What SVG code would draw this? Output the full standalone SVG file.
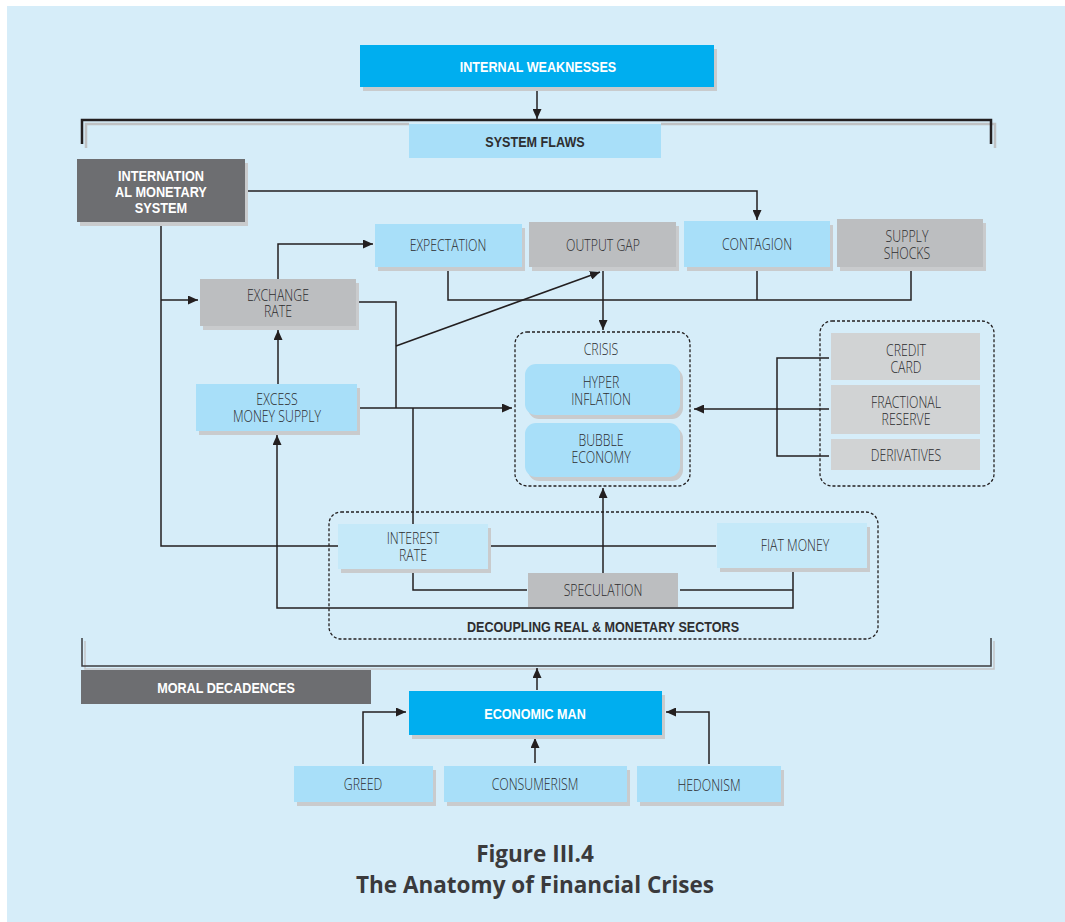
<svg xmlns="http://www.w3.org/2000/svg" width="1065" height="922" viewBox="0 0 1065 922">
<style>
.t{font-family:"Open Sans","Liberation Sans",Arial,sans-serif;font-weight:300;font-size:16px;fill:#2c2c2e;text-anchor:middle}
.b{font-family:"Liberation Sans",Arial,sans-serif;font-size:15px;font-weight:bold;text-anchor:middle}
.w{fill:#ffffff}
.k{fill:#2e2e30}
.cap{font-family:"Open Sans","Noto Sans",sans-serif;font-size:22.5px;font-weight:bold;fill:#3a3a3c;text-anchor:middle}
.sh{fill:#c9cbcd}
.cy{fill:#00aeef}
.lb{fill:#a8dff9}
.xb{fill:#c5e9f9}
.gr{fill:#bcbec0}
.lg{fill:#d1d3d4}
.dg{fill:#6d6e71}
.ln{fill:none;stroke:#231f20;stroke-width:1.5}
.ar{marker-end:url(#ah)}
.dash{fill:none;stroke:#231f20;stroke-width:1.3;stroke-dasharray:3 2}
</style>
<defs>
<marker id="ah" markerUnits="userSpaceOnUse" markerWidth="11" markerHeight="9" refX="10" refY="4.5" orient="auto">
<path d="M0,0 L10,4.5 L0,9 z" fill="#231f20"/>
</marker>
</defs>
<rect x="7" y="6" width="1058" height="916" fill="#d6edf9"/>

<g id="brackets">
<path d="M86,148 V124 H409 M661,124 H995 V148" fill="none" stroke="#bfc1c3" stroke-width="2.5"/>
<path d="M82,144 V120 H991 V144" fill="none" stroke="#231f20" stroke-width="2.5"/>
<path d="M85,641 V669 H994 V641" fill="none" stroke="#c3c5c7" stroke-width="1.5"/>
<path d="M82,638 V666 H991 V638" fill="none" stroke="#3d3d3f" stroke-width="1.5"/>
</g>

<g id="groups">
<rect x="515" y="332" width="175" height="154" rx="12" class="dash"/>
<rect x="820" y="321" width="174" height="165" rx="12" class="dash"/>
<rect x="329" y="512" width="549" height="127" rx="12" class="dash"/>
<text transform="matrix(0.77 0 0 1 601 355)" class="t">CRISIS</text>
<text transform="matrix(0.84 0 0 1 603 632)" class="b k">DECOUPLING REAL &amp; MONETARY SECTORS</text>
</g>

<g id="connectors">
<path class="ln ar" d="M537,88 V119"/>
<path class="ln ar" d="M245,191 H757 V220"/>
<path class="ln" d="M161,222 V546 H338"/>
<path class="ln ar" d="M161,300 H198"/>
<path class="ln ar" d="M278,279 V244 H373"/>
<path class="ln" d="M357,302 H396 V408"/>
<path class="ln ar" d="M396,346 L600,272"/>
<path class="ln ar" d="M278,384 V330"/>
<path class="ln ar" d="M357,408 H512"/>
<path class="ln" d="M413,408 V524"/>
<path class="ln" d="M448,270 V300 H911 V270 M757,270 V300"/>
<path class="ln ar" d="M603,270 V330"/>
<path class="ln" d="M829,358 H777 V456 H829"/>
<path class="ln ar" d="M829,409 H694"/>
<path class="ln" d="M413,570 V590 H527"/>
<path class="ln" d="M490,546 H716"/>
<path class="ln ar" d="M603,573 V488"/>
<path class="ln ar" d="M793,571 V608 H277 V435"/>
<path class="ln" d="M680,590 H793"/>
<path class="ln ar" d="M537,690 V668"/>
<path class="ln ar" d="M363,764 V712 H406"/>
<path class="ln ar" d="M535,763 V738"/>
<path class="ln ar" d="M709,764 V712 H666"/>
</g>

<g id="internal-weaknesses">
<rect x="363" y="49" width="354" height="42" class="sh"/>
<rect x="360" y="45" width="354" height="42" class="cy"/>
<text transform="matrix(0.84 0 0 1 538 72)" class="b w">INTERNAL WEAKNESSES</text>
</g>

<g id="system-flaws">
<rect x="409" y="124" width="252" height="34" class="lb"/>
<text transform="matrix(0.84 0 0 1 535 147)" class="b k">SYSTEM FLAWS</text>
</g>

<g id="ims">
<rect x="80" y="163" width="168" height="63" class="sh"/>
<rect x="77" y="159" width="168" height="63" class="dg"/>
<text transform="matrix(0.85 0 0 1 161 181)" class="b w">INTERNATION</text>
<text transform="matrix(0.85 0 0 1 161 197)" class="b w">AL MONETARY</text>
<text transform="matrix(0.85 0 0 1 161 213)" class="b w">SYSTEM</text>
</g>

<g id="expectation">
<rect x="378" y="228" width="147" height="43" class="sh"/>
<rect x="375" y="224" width="147" height="43" class="lb"/>
<text transform="matrix(0.77 0 0 1 448 251)" class="t">EXPECTATION</text>
</g>

<g id="output-gap">
<rect x="532" y="226" width="147" height="45" class="sh"/>
<rect x="529" y="222" width="147" height="45" class="gr"/>
<text transform="matrix(0.77 0 0 1 603 251)" class="t">OUTPUT GAP</text>
</g>

<g id="contagion">
<rect x="687" y="225" width="146" height="46" class="sh"/>
<rect x="684" y="221" width="146" height="46" class="lb"/>
<text transform="matrix(0.77 0 0 1 757 250)" class="t">CONTAGION</text>
</g>

<g id="supply-shocks">
<rect x="840" y="223" width="146" height="48" class="sh"/>
<rect x="837" y="219" width="146" height="48" class="gr"/>
<text transform="matrix(0.77 0 0 1 907 242)" class="t">SUPPLY</text>
<text transform="matrix(0.77 0 0 1 907 259)" class="t">SHOCKS</text>
</g>

<g id="exchange-rate">
<rect x="203" y="283" width="156" height="47" class="sh"/>
<rect x="200" y="279" width="156" height="47" class="gr"/>
<text transform="matrix(0.77 0 0 1 278 301)" class="t">EXCHANGE</text>
<text transform="matrix(0.77 0 0 1 278 317)" class="t">RATE</text>
</g>

<g id="excess-money-supply">
<rect x="199" y="388" width="161" height="47" class="sh"/>
<rect x="196" y="384" width="161" height="47" class="lb"/>
<text transform="matrix(0.77 0 0 1 277 405)" class="t">EXCESS</text>
<text transform="matrix(0.77 0 0 1 277 422)" class="t">MONEY SUPPLY</text>
</g>

<g id="hyper-inflation">
<rect x="528" y="368" width="155" height="51" rx="11" class="sh"/>
<rect x="525" y="364" width="155" height="51" rx="11" class="lb"/>
<text transform="matrix(0.77 0 0 1 601 388)" class="t">HYPER</text>
<text transform="matrix(0.77 0 0 1 601 405)" class="t">INFLATION</text>
</g>

<g id="bubble-economy">
<rect x="528" y="427" width="155" height="54" rx="11" class="sh"/>
<rect x="525" y="423" width="155" height="54" rx="11" class="lb"/>
<text transform="matrix(0.77 0 0 1 601 446)" class="t">BUBBLE</text>
<text transform="matrix(0.77 0 0 1 601 463)" class="t">ECONOMY</text>
</g>

<g id="credit-card">
<rect x="831" y="333" width="149" height="47" class="lg"/>
<text transform="matrix(0.77 0 0 1 906 356)" class="t">CREDIT</text>
<text transform="matrix(0.77 0 0 1 906 373)" class="t">CARD</text>
</g>

<g id="fractional-reserve">
<rect x="831" y="385" width="149" height="49" class="lg"/>
<text transform="matrix(0.77 0 0 1 906 408)" class="t">FRACTIONAL</text>
<text transform="matrix(0.77 0 0 1 906 425)" class="t">RESERVE</text>
</g>

<g id="derivatives">
<rect x="831" y="439" width="149" height="31" class="lg"/>
<text transform="matrix(0.77 0 0 1 906 461)" class="t">DERIVATIVES</text>
</g>

<g id="interest-rate">
<rect x="341" y="528" width="150" height="45" class="sh"/>
<rect x="338" y="524" width="150" height="45" class="xb"/>
<text transform="matrix(0.77 0 0 1 413 544)" class="t">INTEREST</text>
<text transform="matrix(0.77 0 0 1 413 561)" class="t">RATE</text>
</g>

<g id="fiat-money">
<rect x="720" y="527" width="150" height="45" class="sh"/>
<rect x="717" y="523" width="150" height="45" class="xb"/>
<text transform="matrix(0.77 0 0 1 795 551)" class="t">FIAT MONEY</text>
</g>

<g id="speculation">
<rect x="528" y="573" width="150" height="34" class="gr"/>
<text transform="matrix(0.77 0 0 1 603 596)" class="t">SPECULATION</text>
</g>

<g id="moral-decadences">
<rect x="81" y="670" width="290" height="34" class="dg"/>
<text transform="matrix(0.84 0 0 1 226 693)" class="b w">MORAL DECADENCES</text>
</g>

<g id="economic-man">
<rect x="412" y="695" width="253" height="44" class="sh"/>
<rect x="409" y="691" width="253" height="44" class="cy"/>
<text transform="matrix(0.84 0 0 1 535 719)" class="b w">ECONOMIC MAN</text>
</g>

<g id="greed">
<rect x="297" y="770" width="139" height="36" class="sh"/>
<rect x="294" y="766" width="139" height="36" class="lb"/>
<text transform="matrix(0.77 0 0 1 363 790)" class="t">GREED</text>
</g>

<g id="consumerism">
<rect x="447" y="770" width="183" height="36" class="sh"/>
<rect x="444" y="766" width="183" height="36" class="lb"/>
<text transform="matrix(0.77 0 0 1 535 790)" class="t">CONSUMERISM</text>
</g>

<g id="hedonism">
<rect x="640" y="770" width="144" height="36" class="sh"/>
<rect x="637" y="766" width="144" height="36" class="lb"/>
<text transform="matrix(0.77 0 0 1 709 791)" class="t">HEDONISM</text>
</g>

<g id="caption">
<text x="535" y="862" class="cap">Figure III.4</text>
<text x="535" y="893" class="cap">The Anatomy of Financial Crises</text>
</g>
</svg>
